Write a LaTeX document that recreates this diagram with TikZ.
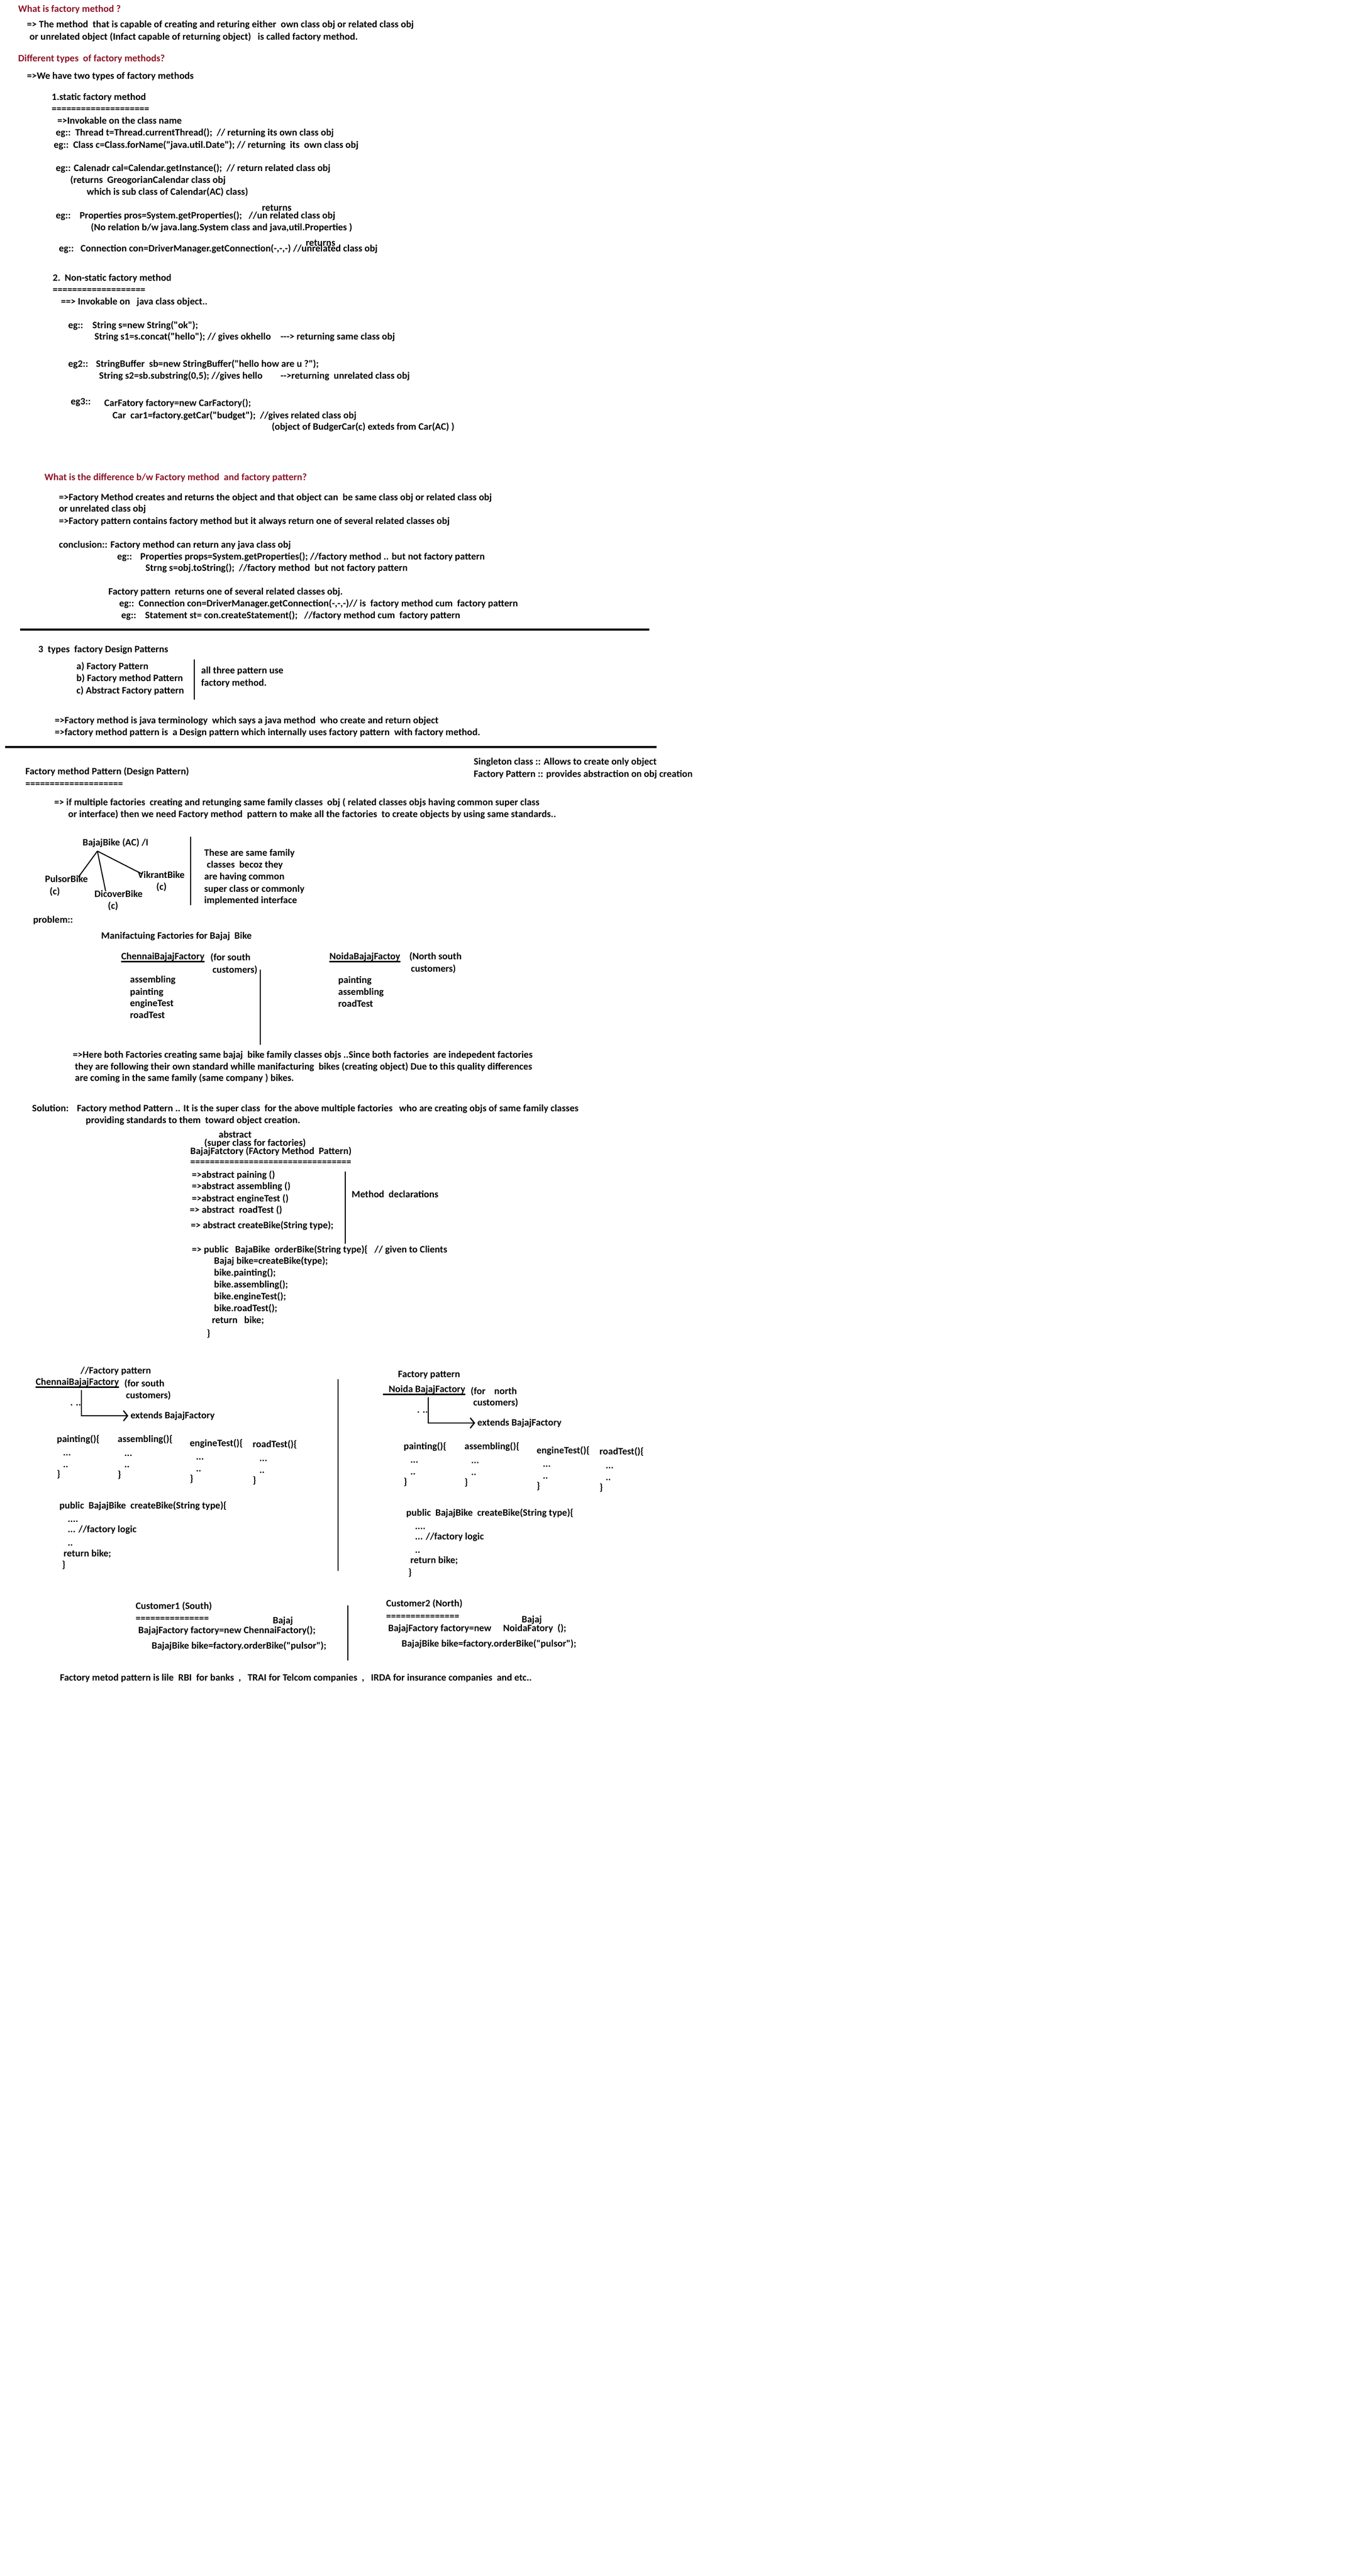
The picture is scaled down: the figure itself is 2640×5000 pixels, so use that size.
\documentclass[tikz,border=0pt]{standalone}
\usepackage{fontspec}
\setmainfont{Carlito}[Ligatures=TeXOff]
\usetikzlibrary{arrows.meta,calc}
\definecolor{headred}{RGB}{140,20,40}

\begin{document}
\begin{tikzpicture}[x=0.5pt,y=-0.5pt,
  txt/.style={anchor=west,inner sep=0pt,text height=0.7em,text depth=0.2em,
    font=\fontsize{9.5pt}{11.4pt}\selectfont\bfseries},
  head/.style={txt,text=headred},
  sep/.style={line width=1.2pt},
  rule/.style={line width=1.6pt},
  branch/.style={line width=1pt},
  ext/.style={line width=1.2pt,-{Straight Barb[length=4pt,width=10pt,line width=1.2pt]}}]
\useasboundingbox (0,0) rectangle (2640,5000);

% what is factory method
\node[head] (q1) at (35,19) {What is factory method ?};
\node[txt] (q1a) at (52,49) {=> The method\ \ that is capable of creating and returing either\ \ own class obj or related class obj};
\node[txt] (q1b) at (57,72) {or unrelated object (Infact capable of returning object)\ \ \ is called factory method.};
\node[head] (q2) at (35,114) {Different types\ \ of factory methods?};
\node[txt] (q2a) at (52,148) {=>We have two types of factory methods};

% static factory method
\node[txt] (st) at (100,189) {1.static factory method};
\node[txt] (steq) at (100,212) {====================};
\node[txt] (st1) at (111,235) {=>Invokable on the class name};
\node[txt] (st2) at (108,258) {eg::\ \ Thread t=Thread.currentThread();\ \ // returning its own class obj};
\node[txt] (st3) at (104,282) {eg::\ \ Class c=Class.forName("java.util.Date"); // returning\ \ its\ \ own class obj};
\node[txt] (st4) at (108,327) {eg:: Calenadr cal=Calendar.getInstance();\ \ // return related class obj};
\node[txt] (st5) at (136,350) {(returns\ \ GreogorianCalendar class obj};
\node[txt] (st6) at (168,373) {which is sub class of Calendar(AC) class)};
\node[txt] (ret1) at (508,404) {returns};
\node[txt] (st7) at (108,419) {eg::\ \ \ \ Properties pros=System.getProperties();\ \ \ //un related class obj};
\node[txt] (st8) at (176,442) {(No relation b/w java.lang.System class and java,util.Properties )};
\node[txt] (ret2) at (593,472) {returns};
\node[txt] (st9) at (114,483) {eg::\ \ \ Connection con=DriverManager.getConnection(-,-,-) //unrelated class obj};

% non-static factory method
\node[txt] (ns) at (102,540) {2.\ \ Non-static factory method};
\node[txt] (nseq) at (102,563) {===================};
\node[txt] (ns1) at (118,586) {==> Invokable on\ \ \ java class object..};
\node[txt] (eg1) at (132,632) {eg::};
\node[txt] (eg1a) at (179,632) {String s=new String("ok");};
\node[txt] (eg1b) at (183,654) {String s1=s.concat("hello"); // gives okhello};
\node[txt] (eg1c) at (544,654) {---> returning same class obj};
\node[txt] (eg2) at (132,707) {eg2::};
\node[txt] (eg2a) at (186,707) {StringBuffer\ \ sb=new StringBuffer("hello how are u ?");};
\node[txt] (eg2b) at (192,730) {String s2=sb.substring(0,5); //gives hello};
\node[txt] (eg2c) at (544,730) {-->returning\ \ unrelated class obj};
\node[txt] (eg3) at (137,780) {eg3::};
\node[txt] (eg3a) at (202,783) {CarFatory factory=new CarFactory();};
\node[txt] (eg3b) at (218,807) {Car\ \ car1=factory.getCar("budget");\ \ //gives related class obj};
\node[txt] (eg3c) at (527,829) {(object of BudgerCar(c) exteds from Car(AC) )};

% difference
\node[head] (q3) at (86,927) {What is the difference b/w Factory method\ \ and factory pattern?};
\node[txt] (d1) at (114,966) {=>Factory Method creates and returns the object and that object can\ \ be same class obj or related class obj};
\node[txt] (d2) at (114,988) {or unrelated class obj};
\node[txt] (d3) at (114,1012) {=>Factory pattern contains factory method but it always return one of several related classes obj};
\node[txt] (c1) at (114,1058) {conclusion:: Factory method can return any java class obj};
\node[txt] (c2) at (227,1081) {eg::};
\node[txt] (c2a) at (272,1081) {Properties props=System.getProperties(); //factory method .. but not factory pattern};
\node[txt] (c3) at (282,1103) {Strng s=obj.toString();\ \ //factory method\ \ but not factory pattern};
\node[txt] (c4) at (210,1149) {Factory pattern\ \ returns one of several related classes obj.};
\node[txt] (c5) at (231,1172) {eg::\ \ Connection con=DriverManager.getConnection(-,-,-)// is\ \ factory method cum\ \ factory pattern};
\node[txt] (c6) at (235,1195) {eg::\ \ \ \ Statement st= con.createStatement();\ \ \ //factory method cum\ \ factory pattern};
\draw[rule] (39,1222) -- (1260,1222);

% three types
\node[txt] (t3) at (74,1261) {3\ \ types\ \ factory Design Patterns};
\node[txt] (ta) at (148,1294) {a) Factory Pattern};
\node[txt] (tb) at (148,1317) {b) Factory method Pattern};
\node[txt] (tc) at (148,1341) {c) Abstract Factory pattern};
\draw[sep] (377,1280) -- (377,1358);
\node[txt] (tn1) at (390,1302) {all three pattern use};
\node[txt] (tn2) at (390,1326) {factory method.};
\node[txt] (fm1) at (106,1399) {=>Factory method is java terminology\ \ which says a java method\ \ who create and return object};
\node[txt] (fm2) at (106,1422) {=>factory method pattern is\ \ a Design pattern which internally uses factory pattern\ \ with factory method.};
\draw[rule] (10,1450) -- (1274,1450);

% factory method pattern
\node[txt] (sg1) at (919,1479) {Singleton class :: Allows to create only object};
\node[txt] (sg2) at (919,1503) {Factory Pattern :: provides abstraction on obj creation};
\node[txt] (fmp) at (49,1498) {Factory method Pattern (Design Pattern)};
\node[txt] (fmpeq) at (49,1522) {====================};
\node[txt] (fmp1) at (105,1558) {=> if multiple factories\ \ creating and retunging same family classes\ \ obj ( related classes objs having common super class};
\node[txt] (fmp2) at (132,1581) {or interface) then we need Factory method\ \ pattern to make all the factories\ \ to create objects by using same standards..};

% bike family
\node[txt] (bb) at (160,1636) {BajajBike (AC) /I};
\node[txt] (pb) at (87,1707) {PulsorBike};
\node[txt] (pbc) at (96,1731) {(c)};
\node[txt] (db) at (183,1736) {DicoverBike};
\node[txt] (dbc) at (209,1759) {(c)};
\node[txt] (vb) at (267,1699) {VikrantBike};
\node[txt] (vbc) at (303,1722) {(c)};
\coordinate (apex) at (189,1652);
\draw[branch] (apex) -- ($(pb.north west)+(65,5)$);
\draw[branch] (apex) -- ($(db.north west)+(22,3)$);
\draw[branch] (apex) -- ($(vb.north west)+(9,7)$);
\draw[sep] (370,1624) -- (370,1757);
\node[txt] (fam1) at (396,1656) {These are same family};
\node[txt] (fam2) at (401,1679) {classes\ \ becoz they};
\node[txt] (fam3) at (396,1702) {are having common};
\node[txt] (fam4) at (396,1726) {super class or commonly};
\node[txt] (fam5) at (396,1748) {implemented interface};

% problem
\node[txt] (pr) at (64,1786) {problem::};
\node[txt] (mf) at (196,1817) {Manifactuing Factories for Bajaj\ \ Bike};
\node[txt] (cbf) at (235,1857) {ChennaiBajajFactory};
\draw[rule] (cbf.south west) -- (cbf.south east);
\node[txt] (cbfn1) at (408,1859) {(for south};
\node[txt] (cbfn2) at (412,1883) {customers)};
\draw[sep] (505,1882) -- (505,2028);
\node[txt] (ca1) at (252,1902) {assembling};
\node[txt] (ca2) at (252,1926) {painting};
\node[txt] (ca3) at (252,1948) {engineTest};
\node[txt] (ca4) at (252,1971) {roadTest};
\node[txt] (nbf) at (639,1857) {NoidaBajajFactoy};
\draw[rule] (nbf.south west) -- (nbf.south east);
\node[txt] (nbfn1) at (794,1857) {(North south};
\node[txt] (nbfn2) at (797,1881) {customers)};
\node[txt] (na1) at (656,1903) {painting};
\node[txt] (na2) at (656,1926) {assembling};
\node[txt] (na3) at (656,1949) {roadTest};
\node[txt] (pe1) at (141,2048) {=>Here both Factories creating same bajaj\ \ bike family classes objs ..Since both factories\ \ are indepedent factories};
\node[txt] (pe2) at (145,2071) {they are following their own standard whille manifacturing\ \ bikes (creating object) Due to this quality differences};
\node[txt] (pe3) at (145,2093) {are coming in the same family (same company ) bikes.};

% solution
\node[txt] (sol) at (62,2152) {Solution:};
\node[txt] (sola) at (149,2152) {Factory method Pattern .. It is the super class\ \ for the above multiple factories\ \ \ who are creating objs of same family classes};
\node[txt] (solb) at (166,2175) {providing standards to them\ \ toward object creation.};
\node[txt] (abs) at (424,2203) {abstract};
\node[txt] (absn) at (396,2219) {(super class for factories)};
\node[txt] (bf) at (369,2235) {BajajFatctory (FActory Method\ \ Pattern)};
\node[txt] (bfeq) at (369,2256) {=================================};
\node[txt] (m1) at (372,2281) {=>abstract paining ()};
\node[txt] (m2) at (372,2303) {=>abstract assembling ()};
\node[txt] (m3) at (372,2327) {=>abstract engineTest ()};
\node[txt] (m4) at (368,2349) {=> abstract\ \ roadTest ()};
\node[txt] (m5) at (370,2379) {=> abstract createBike(String type);};
\draw[sep] (670,2274) -- (670,2414);
\node[txt] (md) at (682,2319) {Method\ \ declarations};
\node[txt] (ob) at (372,2426) {=> public\ \ \ BajaBike\ \ orderBike(String type)\{\ \ \ // given to Clients};
\node[txt] (ob1) at (415,2448) {Bajaj bike=createBike(type);};
\node[txt] (ob2) at (415,2471) {bike.painting();};
\node[txt] (ob3) at (415,2494) {bike.assembling();};
\node[txt] (ob4) at (415,2517) {bike.engineTest();};
\node[txt] (ob5) at (415,2540) {bike.roadTest();};
\node[txt] (ob6) at (411,2563) {return\ \ \ bike;};
\node[txt] (ob7) at (401,2589) {\}};

% chennai factory
\node[txt] (cfp) at (156,2661) {//Factory pattern};
\node[txt] (cf) at (69,2683) {ChennaiBajajFactory};
\draw[rule] (cf.south west) -- (cf.south east);
\node[txt] (cfn1) at (241,2686) {(for south};
\node[txt] (cfn2) at (244,2709) {customers)};
\node[txt] (cdots) at (136,2723) {. ..};
\node[txt] (cext) at (253,2748) {extends BajajFactory};
\coordinate (cjoin) at (158,2698);
\draw[ext] (cjoin) |- ([xshift=-2pt]cext.west);
\node[txt] (cm1) at (110,2794) {painting()\{};
\node[txt] (cm1a) at (122,2820) {...};
\node[txt] (cm1b) at (122,2843) {..};
\node[txt] (cm1c) at (110,2862) {\}};
\node[txt] (cm2) at (228,2794) {assembling()\{};
\node[txt] (cm2a) at (241,2821) {...};
\node[txt] (cm2b) at (241,2843) {..};
\node[txt] (cm2c) at (228,2863) {\}};
\node[txt] (cm3) at (368,2802) {engineTest()\{};
\node[txt] (cm3a) at (380,2828) {...};
\node[txt] (cm3b) at (380,2851) {..};
\node[txt] (cm3c) at (368,2871) {\}};
\node[txt] (cm4) at (490,2804) {roadTest()\{};
\node[txt] (cm4a) at (503,2831) {...};
\node[txt] (cm4b) at (503,2854) {..};
\node[txt] (cm4c) at (490,2874) {\}};
\node[txt] (cc) at (115,2923) {public\ \ BajajBike\ \ createBike(String type)\{};
\node[txt] (cc1) at (131,2949) {....};
\node[txt] (cc2) at (131,2969) {... //factory logic};
\node[txt] (cc3) at (131,2995) {..};
\node[txt] (cc4) at (123,3016) {return bike;};
\node[txt] (cc5) at (120,3038) {\}};
\draw[sep] (656,2677) -- (656,3049);

% noida factory
\node[txt] (nfp) at (772,2668) {Factory pattern};
\node[txt] (nf) at (754,2697) {Noida BajajFactory};
\draw[rule] ($(nf.south west)+(-11,0)$) -- (nf.south east);
\node[txt] (nfn1) at (913,2701) {(for\ \ \ \ north};
\node[txt] (nfn2) at (918,2723) {customers)};
\node[txt] (ndots) at (809,2737) {. ..};
\node[txt] (next) at (926,2762) {extends BajajFactory};
\coordinate (njoin) at (831,2712);
\draw[ext] (njoin) |- ([xshift=-2pt]next.west);
\node[txt] (nm1) at (783,2808) {painting()\{};
\node[txt] (nm1a) at (796,2834) {...};
\node[txt] (nm1b) at (796,2857) {..};
\node[txt] (nm1c) at (783,2877) {\}};
\node[txt] (nm2) at (901,2808) {assembling()\{};
\node[txt] (nm2a) at (914,2835) {...};
\node[txt] (nm2b) at (914,2858) {..};
\node[txt] (nm2c) at (901,2878) {\}};
\node[txt] (nm3) at (1041,2816) {engineTest()\{};
\node[txt] (nm3a) at (1053,2842) {...};
\node[txt] (nm3b) at (1053,2865) {..};
\node[txt] (nm3c) at (1041,2885) {\}};
\node[txt] (nm4) at (1163,2818) {roadTest()\{};
\node[txt] (nm4a) at (1175,2845) {...};
\node[txt] (nm4b) at (1175,2868) {..};
\node[txt] (nm4c) at (1163,2888) {\}};
\node[txt] (nc) at (788,2937) {public\ \ BajajBike\ \ createBike(String type)\{};
\node[txt] (nc1) at (805,2963) {....};
\node[txt] (nc2) at (805,2983) {... //factory logic};
\node[txt] (nc3) at (805,3009) {..};
\node[txt] (nc4) at (796,3029) {return bike;};
\node[txt] (nc5) at (792,3053) {\}};

% customers
\node[txt] (cu1) at (263,3118) {Customer1 (South)};
\node[txt] (cu1eq) at (263,3142) {===============};
\node[txt] (cu1b) at (529,3146) {Bajaj};
\node[txt] (cu1c) at (268,3165) {BajajFactory factory=new ChennaiFactory();};
\node[txt] (cu1d) at (294,3195) {BajajBike bike=factory.orderBike("pulsor");};
\draw[sep] (675,3116) -- (675,3223);
\node[txt] (cu2) at (749,3113) {Customer2 (North)};
\node[txt] (cu2eq) at (749,3138) {===============};
\node[txt] (cu2b) at (1012,3144) {Bajaj};
\node[txt] (cu2c) at (753,3161) {BajajFactory factory=new};
\node[txt] (cu2e) at (976,3161) {NoidaFatory\ \ ();};
\node[txt] (cu2d) at (779,3191) {BajajBike bike=factory.orderBike("pulsor");};
\node[txt] (fin) at (116,3257) {Factory metod pattern is lile\ \ RBI\ \ for banks\ \ ,\ \ \ TRAI for Telcom companies\ \ ,\ \ \ IRDA for insurance companies\ \ and etc..};
\end{tikzpicture}
\end{document}
